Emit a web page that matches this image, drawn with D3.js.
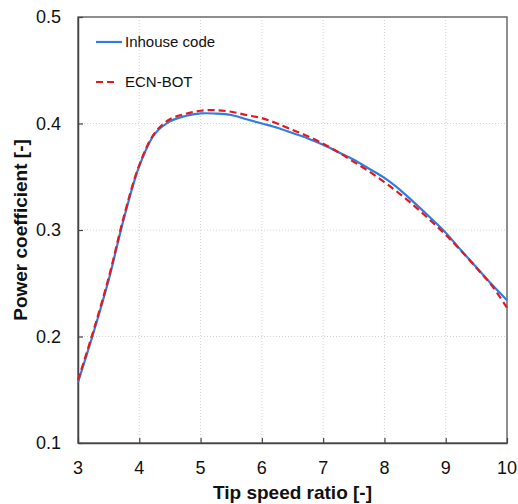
<!doctype html>
<html lang="en">
  <head>
    <meta charset="UTF-8" />
    <title>Power coefficient vs tip speed ratio</title>
    <script src="https://d3js.org/d3.v7.min.js"></script>
    <style>
      body {
        margin: 0;
        background: #fff;
        font-family: 'Liberation Sans', Arial, sans-serif;
      }
      .grid line {
        stroke: #d4d4d4;
        stroke-width: 1;
        stroke-dasharray: 1, 2;
      }
      .tick-label {
        font-size: 18px;
        fill: #111;
      }
      .axis-title {
        font-size: 19px;
        font-weight: bold;
        fill: #111;
      }
      .legend-text {
        font-size: 15px;
        fill: #111;
      }
    </style>
  </head>
  <body>
    <svg id="chart"></svg>
    <script>
      // Data
      const tsr = [3, 3.25, 3.5, 3.75, 4, 4.25, 4.5, 4.75, 5, 5.25, 5.5, 5.75, 6, 6.25, 6.5,
        6.75, 7, 7.25, 7.5, 7.75, 8, 8.25, 8.5, 8.75, 9, 9.25, 9.5, 9.75, 10]
      const inhouse = [0.157, 0.203, 0.253, 0.311, 0.36, 0.39, 0.402, 0.407, 0.4095, 0.4093,
        0.408, 0.404, 0.4, 0.396, 0.391, 0.386, 0.38, 0.373, 0.366, 0.3575, 0.349, 0.338, 0.325,
        0.3115, 0.2975, 0.281, 0.265, 0.249, 0.234]
      const ecnBot = [0.159, 0.205, 0.255, 0.313, 0.361, 0.391, 0.404, 0.409, 0.412, 0.4125,
        0.411, 0.408, 0.405, 0.4, 0.394, 0.388, 0.381, 0.373, 0.364, 0.355, 0.345, 0.334, 0.322,
        0.309, 0.2955, 0.2805, 0.2645, 0.248, 0.227]
      const xTicks = [3, 4, 5, 6, 7, 8, 9, 10]
      const yTicks = [0.1, 0.2, 0.3, 0.4, 0.5]
      const seriesNames = ['Inhouse code', 'ECN-BOT']

      const W = 518
      const H = 504
      const margin = { top: 17, right: 11, bottom: 61, left: 78 }
      const width = W - margin.left - margin.right
      const height = H - margin.top - margin.bottom

      const svg = d3.select('#chart').attr('width', W).attr('height', H)
      const g = svg.append('g').attr('transform', `translate(${margin.left},${margin.top})`)

      const x = d3.scaleLinear().domain([3, 10]).range([0, width])
      const y = d3.scaleLinear().domain([0.1, 0.5]).range([height, 0])

      // grid
      const grid = g.append('g').attr('class', 'grid')
      grid
        .selectAll('.vx')
        .data(xTicks.slice(1, -1))
        .enter()
        .append('line')
        .attr('x1', (d) => x(d))
        .attr('x2', (d) => x(d))
        .attr('y1', 0)
        .attr('y2', height)
      grid
        .selectAll('.hy')
        .data(yTicks.slice(1, -1))
        .enter()
        .append('line')
        .attr('x1', 0)
        .attr('x2', width)
        .attr('y1', (d) => y(d))
        .attr('y2', (d) => y(d))

      // frame
      g.append('rect')
        .attr('width', width)
        .attr('height', height)
        .attr('fill', 'none')
        .attr('stroke', '#6a6a6a')
        .attr('stroke-width', 1.5)

      // axes with inside ticks
      const xAxis = g
        .append('g')
        .attr('transform', `translate(0,${height})`)
        .call(d3.axisBottom(x).tickValues(xTicks).tickSizeInner(-5).tickSizeOuter(0).tickFormat(''))
      const yAxis = g
        .append('g')
        .call(d3.axisLeft(y).tickValues(yTicks).tickSizeInner(-5).tickSizeOuter(0).tickFormat(''))
      ;[xAxis, yAxis].forEach((a) => {
        a.select('.domain').attr('stroke', '#444').attr('stroke-width', 1.5)
        a.selectAll('.tick line').attr('stroke', '#444').attr('stroke-width', 1.2)
      })

      // tick labels
      g.selectAll('.xl')
        .data(xTicks)
        .enter()
        .append('text')
        .attr('class', 'tick-label')
        .attr('text-anchor', 'middle')
        .attr('x', (d) => x(d))
        .attr('y', height + 31)
        .text((d) => d)
      g.selectAll('.yl')
        .data(yTicks)
        .enter()
        .append('text')
        .attr('class', 'tick-label')
        .attr('text-anchor', 'end')
        .attr('x', -17)
        .attr('y', (d) => y(d) + 6)
        .text((d) => d.toFixed(1))

      // axis titles
      g.append('text')
        .attr('class', 'axis-title')
        .attr('text-anchor', 'middle')
        .attr('x', width / 2)
        .attr('y', height + 56)
        .text('Tip speed ratio [-]')
      g.append('text')
        .attr('class', 'axis-title')
        .attr('text-anchor', 'middle')
        .attr('transform', 'rotate(-90)')
        .attr('x', -height / 2)
        .attr('y', -51)
        .text('Power coefficient [-]')

      // lines
      const line = d3
        .line()
        .x((d) => x(d[0]))
        .y((d) => y(d[1]))
        .curve(d3.curveCatmullRom.alpha(0.5))

      g.append('path')
        .datum(d3.zip(tsr, inhouse))
        .attr('fill', 'none')
        .attr('stroke', '#2f7de1')
        .attr('stroke-width', 2.2)
        .attr('d', line)

      g.append('path')
        .datum(d3.zip(tsr, ecnBot))
        .attr('fill', 'none')
        .attr('stroke', '#e8161e')
        .attr('stroke-width', 2.2)
        .attr('stroke-dasharray', '7,4')
        .attr('d', line)

      // legend
      const legend = g.append('g').attr('transform', 'translate(18,25)')
      legend.append('line').attr('x1', 0).attr('x2', 26).attr('y1', 0).attr('y2', 0)
        .attr('stroke', '#2f7de1').attr('stroke-width', 2.2)
      legend.append('text').attr('class', 'legend-text').attr('x', 29).attr('y', 5).text(seriesNames[0])
      legend.append('line').attr('x1', 0).attr('x2', 22).attr('y1', 40).attr('y2', 40)
        .attr('stroke', '#e8161e').attr('stroke-width', 2.2).attr('stroke-dasharray', '7,4')
      legend.append('text').attr('class', 'legend-text').attr('x', 29).attr('y', 45).text(seriesNames[1])
    </script>
  </body>
</html>
